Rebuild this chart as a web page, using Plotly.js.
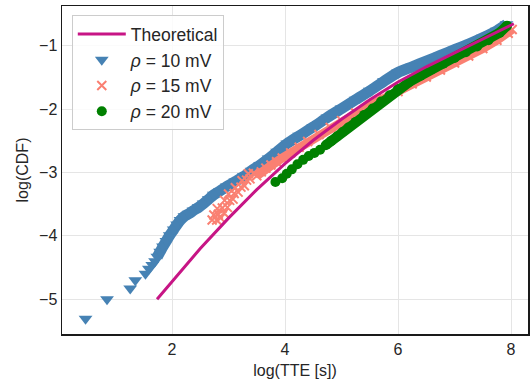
<!DOCTYPE html>
<html>
<head>
<meta charset="utf-8">
<script src="https://cdn.plot.ly/plotly-3.0.1.min.js"></script>
<style>html,body{margin:0;padding:0;background:#fff;}#chart{width:530px;height:387px;}</style>
</head>
<body>
<div id="chart"></div>
<script>
// Theoretical curve
var xTheo = [1.735, 2.0, 2.5, 3.0, 3.5, 4.0, 4.5, 5.0, 5.5, 6.0, 6.5, 7.0, 7.5, 8.05];
var yTheo = [-5.00, -4.72, -4.20, -3.72, -3.27, -2.86, -2.49, -2.16, -1.85, -1.57, -1.33, -1.11, -0.89, -0.65];

// rho = 10 mV
var x10 = [0.47,0.85,1.26,1.35,1.53,1.59,1.65,1.70,1.74,1.79,1.84,1.90,1.96,2.03,2.09,2.15,2.22,2.30,2.38,2.47,2.56,2.65,2.74,2.85,2.97,3.12,3.27,3.41,3.56,3.71,3.86,4.04,4.25,4.5,4.75,5.0,5.25,5.5,5.75,6.0,6.25,6.5,6.75,7.0,7.25,7.5,7.75,7.92];
var y10 = [-5.31,-5.00,-4.83,-4.70,-4.60,-4.52,-4.46,-4.40,-4.33,-4.25,-4.17,-4.08,-3.99,-3.90,-3.82,-3.75,-3.69,-3.65,-3.60,-3.55,-3.49,-3.42,-3.35,-3.29,-3.22,-3.14,-3.06,-2.97,-2.88,-2.78,-2.67,-2.54,-2.42,-2.28,-2.13,-1.99,-1.85,-1.71,-1.56,-1.42,-1.33,-1.24,-1.15,-1.06,-0.97,-0.87,-0.76,-0.66];

// rho = 15 mV
var x15 = [2.71,2.79,2.86,2.74,2.82,2.92,2.80,2.89,2.98,2.93,3.02,3.08,3.00,3.10,3.17,3.12,3.22,3.28,3.24,3.32,3.38,3.35,3.44,3.50,3.58,3.66,3.75,3.85,3.95,4.1,4.25,4.4,4.6,4.8,5.0,5.25,5.5,5.75,6.0,6.25,6.5,6.75,7.0,7.25,7.5,7.75,7.95,8.02];
var y15 = [-3.75,-3.75,-3.72,-3.67,-3.66,-3.64,-3.57,-3.56,-3.55,-3.44,-3.44,-3.42,-3.34,-3.33,-3.31,-3.24,-3.23,-3.21,-3.13,-3.12,-3.10,-3.02,-3.01,-3.05,-2.99,-2.93,-2.88,-2.83,-2.77,-2.69,-2.60,-2.51,-2.40,-2.29,-2.18,-2.06,-1.94,-1.83,-1.72,-1.60,-1.49,-1.38,-1.27,-1.16,-1.04,-0.91,-0.80,-0.74];

// rho = 20 mV
var x20 = [3.83,3.95,4.03,4.12,4.22,4.32,4.42,4.52,4.62,4.72,4.82,4.92,5.02,5.12,5.25,5.4,5.55,5.7,5.85,6.0,6.2,6.4,6.6,6.8,7.0,7.2,7.4,7.6,7.8,7.93];
var y20 = [-3.15,-3.09,-3.02,-2.95,-2.87,-2.80,-2.74,-2.69,-2.64,-2.57,-2.50,-2.43,-2.36,-2.29,-2.20,-2.09,-1.99,-1.88,-1.78,-1.68,-1.57,-1.47,-1.37,-1.28,-1.19,-1.10,-1.01,-0.91,-0.79,-0.68];

var xTicks = [2, 4, 6, 8];
var yTicks = [-5, -4, -3, -2, -1];
var yTickText = ['\u22125', '\u22124', '\u22123', '\u22122', '\u22121'];

var cBlue = '#4682b4', cSalmon = '#fa8072', cGreen = '#008000', cTheo = '#c71585';

var traces = [
  {x: x10.slice(8), y: y10.slice(8), mode: 'lines', line: {color: cBlue, width: 11, shape: 'spline', smoothing: 0.6}, showlegend: false, hoverinfo: 'skip'},
  {x: x10, y: y10, mode: 'markers', name: '<i>ρ</i> = 10 mV', legendrank: 2, legendgroup: 'b',
   marker: {symbol: 'triangle-down', size: 12, color: cBlue}},
  {x: x15.slice(23), y: y15.slice(23), mode: 'lines', line: {color: cSalmon, width: 9}, showlegend: false, hoverinfo: 'skip'},
  {x: x15, y: y15, mode: 'markers', name: '<i>ρ</i> = 15 mV', legendrank: 3, legendgroup: 'c',
   marker: {symbol: 'x-thin-open', size: 9, color: cSalmon, line: {color: cSalmon, width: 2}}},
  {x: x20.slice(9), y: y20.slice(9), mode: 'lines', line: {color: cGreen, width: 10}, showlegend: false, hoverinfo: 'skip'},
  {x: x20, y: y20, mode: 'markers', name: '<i>ρ</i> = 20 mV', legendrank: 4, legendgroup: 'd',
   marker: {symbol: 'circle', size: 10, color: cGreen}},
  {x: xTheo, y: yTheo, mode: 'lines', name: 'Theoretical', legendrank: 1, legendgroup: 'a',
   line: {color: cTheo, width: 3}}
];

var layout = {
  width: 530, height: 387,
  margin: {l: 62, r: 2, t: 6, b: 53},
  paper_bgcolor: '#ffffff', plot_bgcolor: '#ffffff',
  font: {family: 'Liberation Sans, Arial, sans-serif', color: '#262626', size: 16},
  showlegend: true,
  legend: {x: 0.021, y: 0.972, xanchor: 'left', yanchor: 'top',
    bgcolor: 'rgba(255,255,255,0.85)', bordercolor: '#cccccc', borderwidth: 1,
    font: {size: 17.5, color: '#262626'}, traceorder: 'grouped', tracegroupgap: 0, itemwidth: 48},
  xaxis: {range: [0.053, 8.3], tickvals: xTicks, ticktext: xTicks.map(String), ticks: '',
    showgrid: true, gridcolor: '#e5e5e5', gridwidth: 1, zeroline: false,
    showline: true, mirror: true, linecolor: '#1a1a1a', linewidth: 1.5,
    tickfont: {size: 16}, title: {text: 'log(TTE [s])', font: {size: 16}, standoff: 8}},
  yaxis: {range: [-5.55, -0.37], tickvals: yTicks, ticktext: yTickText, ticks: '',
    showgrid: true, gridcolor: '#e5e5e5', gridwidth: 1, zeroline: false,
    showline: true, mirror: true, linecolor: '#1a1a1a', linewidth: 1.5,
    tickfont: {size: 16}, title: {text: 'log(CDF)', font: {size: 16}, standoff: 6}}
};

Plotly.newPlot('chart', traces, layout, {displayModeBar: false, staticPlot: true});
</script>
</body>
</html>
